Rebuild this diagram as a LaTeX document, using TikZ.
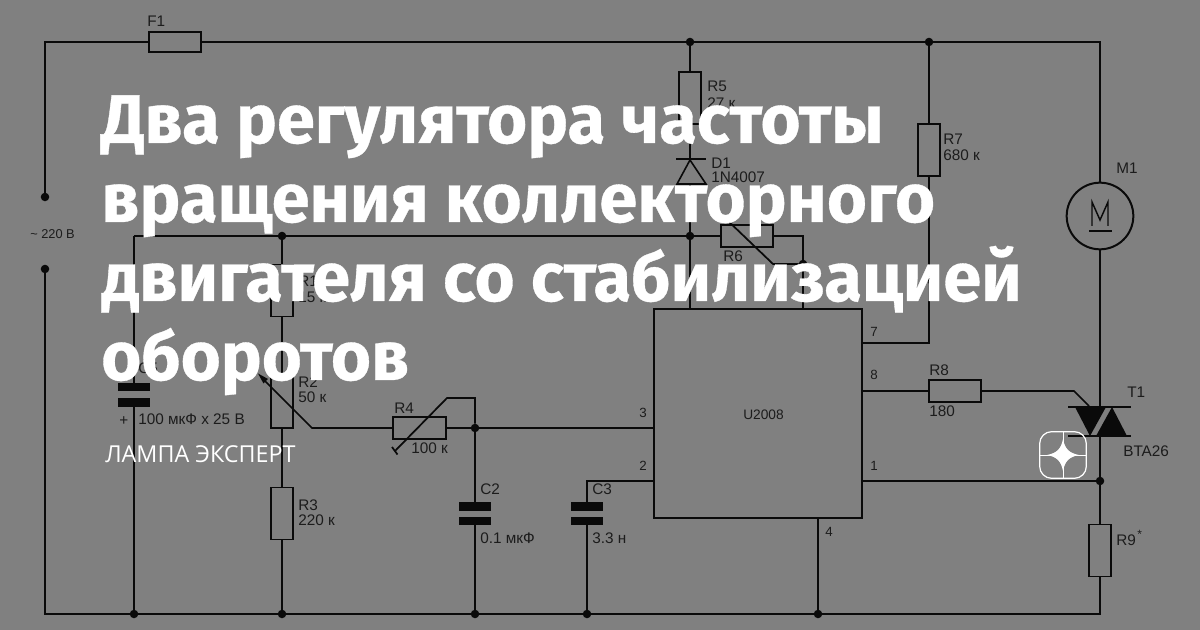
\documentclass[tikz,border=0pt]{standalone}
\usepackage{fontspec}
\setmainfont{Liberation Sans}
\newfontfamily\titlefont[BoldFeatures={FakeBold=0.5}]{Fira Sans}
\newfontfamily\brandfont{Open Sans}
\definecolor{bgc}{HTML}{808080}
\definecolor{ink}{HTML}{0A0A0A}
\definecolor{lbl}{HTML}{1C1C1C}
\begin{document}
\begin{tikzpicture}[x=0.75pt,y=-0.75pt,
  wire/.style={draw=ink,line width=1.3pt},
  res/.style={draw=ink,line width=1.3pt,minimum width=16.5pt,minimum height=39pt,inner sep=0pt,outer sep=0pt},
  resh/.style={draw=ink,line width=1.3pt,minimum width=39.5pt,minimum height=16.5pt,inner sep=0pt,outer sep=0pt},
  dot/.style={circle,fill=ink,minimum size=6.4pt,inner sep=0pt,outer sep=0pt},
  plate/.style={fill=ink,minimum width=24pt,minimum height=6.6pt,inner sep=0pt,outer sep=0pt},
  lab/.style={text=lbl,font=\fontsize{11.5}{11.5}\selectfont,inner sep=0pt,anchor=west},
  pin/.style={text=lbl,font=\fontsize{10}{10}\selectfont,inner sep=0pt},
  ttl/.style={text=white,font=\titlefont\fontsize{51.5}{51.5}\bfseries\selectfont,inner sep=0pt,anchor=base west}]
\path[fill=bgc,use as bounding box] (0,0) rectangle (1200,630);
% junctions
\node[dot] (tl) at (45,197) {};
\node[dot] (bl) at (45,269) {};
\node[dot] (j690t) at (690,42) {};
\node[dot] (j929t) at (929,42) {};
\node[dot] (jrail1) at (282,236) {};
\node[dot] (jrail2) at (690,236) {};
\node[dot] (jw6) at (803,264) {};
\node[dot] (j3) at (475,428) {};
\node[dot] (j1) at (1100,481) {};
\node[dot] (b134) at (134,614) {};
\node[dot] (b282) at (282,614) {};
\node[dot] (b475) at (475,614) {};
\node[dot] (b587) at (587,614) {};
\node[dot] (b818) at (818,614) {};
\coordinate (tlc) at (45,42);
\coordinate (trc) at (1100,42);
\coordinate (blc) at (45,614);
\coordinate (brc) at (1100,614);
\coordinate (railL) at (134,236);
% components
\node[draw=ink,line width=1.3pt,minimum width=39.5pt,minimum height=15.5pt,inner sep=0pt,outer sep=0pt] (F1) at (175,42) {};
\node[res] (R5) at (690,98) {};
\node[res] (R7) at (929,150) {};
\node[res] (R9) at (1100,550.5) {};
\node[res] (R1) at (282,290.5) {};
\node[res] (R2) at (282,402) {};
\node[res] (R3) at (282,513.5) {};
\node[resh] (R4) at (419.5,428) {};
\node[resh] (R6) at (747,236) {};
\node[resh] (R8) at (955,391) {};
\node[draw=ink,line width=1.3pt,minimum width=156pt,minimum height=157pt,inner sep=0pt,outer sep=0pt] (U) at (758,413.5) {};
\node[circle,draw=ink,line width=1.5pt,minimum size=50pt,inner sep=0pt,outer sep=0pt] (M1) at (1100,216) {};
\node[plate] (C5a) at (134,387) {};
\node[plate] (C5b) at (134,402.5) {};
\node[plate] (C2a) at (475,506.5) {};
\node[plate] (C2b) at (475,521) {};
\node[plate] (C3a) at (587,506.5) {};
\node[plate] (C3b) at (587,521) {};
\coordinate (D1k) at (690,159);
\coordinate (D1a) at (690,184);
\coordinate (T1t) at (1100,407);
\coordinate (T1b) at (1100,436);
% wires
\draw[wire] (tl) -- (tlc) -- (F1.west);
\draw[wire] (F1.east) -- (j690t) -- (j929t) -- (trc) -- (M1.north);
\draw[wire] (M1.south) -- (T1t);
\draw[wire] (T1b) -- (j1) -- (R9.north);
\draw[wire] (R9.south) -- (brc) -- (b818) -- (b587) -- (b475) -- (b282) -- (b134) -- (blc) -- (bl);
\draw[wire] (j690t) -- (R5.north);
\draw[wire] (R5.south) -- (D1k);
\draw[wire] (D1a) -- (jrail2);
\draw[wire] (jrail2) -- (jrail2 |- U.north);
\draw[wire] (j929t) -- (R7.north);
\draw[wire] (R7.south) -- (929,343) -- (863,343);
\draw[wire] (railL) -- (jrail1) -- (jrail2) -- (R6.west);
\draw[wire] (R6.east) -- (803,236) -- (jw6) -- (jw6 |- U.north);
\draw[wire] (725,218) -- (773,264) -- (jw6);
\draw[wire] (railL) -- (C5a);
\draw[wire] (C5b) -- (b134);
\draw[wire] (jrail1) -- (R1.north);
\draw[wire] (R1.south) -- (R2.north);
\draw[wire] (R2.south) -- (R3.north);
\draw[wire] (R3.south) -- (b282);
\draw[wire] (U.west |- j3) -- (j3) -- (R4.east);
\draw[wire] (R4.west) -- (312,428) -- (262,378);
\fill[ink] (258,373.5) -- (268,379) -- (263.5,383.5) -- cycle;
\draw[wire] (392,447) -- (397.5,454.5);
\draw[wire] (395,451) -- (447,398) -- (475,398) -- (j3);
\draw[wire] (j3) -- (C2a);
\draw[wire] (C2b) -- (b475);
\draw[wire] (U.west |- 0,481) -- (587,481) -- (C3a);
\draw[wire] (C3b) -- (b587);
\draw[wire] (U.east |- j1) -- (j1);
\draw[wire] (U.east |- R8) -- (R8.west);
\draw[wire] (R8.east) -- (1074,391) -- (1089,406);
\draw[wire] (b818) -- (b818 |- U.south);
% diode
\draw[draw=ink,line width=1.6pt] (676,159) -- (706,159);
\draw[draw=ink,line width=1.2pt] (690,160) -- (677,184) -- (706,184) -- cycle;
% triac
\draw[draw=ink,line width=1.6pt] (1068,407) -- (1131,407);
\draw[draw=ink,line width=1.6pt] (1068,436) -- (1131,436);
\fill[ink] (1075,407) -- (1106,407) -- (1090,436) -- cycle;
\fill[ink] (1112,407) -- (1127,436) -- (1096,436) -- cycle;
% motor glyph
\draw[draw=ink,line width=1.1pt] (1092,226) -- (1092,202) -- (1100,220) -- (1108,202) -- (1108,226);
\draw[draw=ink,line width=1.2pt] (1089,231) -- (1112,231);
% labels
\node[lab] (lF1) at (147,21) {F1};
\node[lab,font=\fontsize{9.6}{9.6}\selectfont] (l220) at (30,234) {\textasciitilde{} 220 В};
\node[lab] (lR5) at (707,86) {R5};
\node[lab] (lR5v) at (707,103) {27 к};
\node[lab] (lD1) at (711,163) {D1};
\node[lab] (lD1v) at (711,177) {1N4007};
\node[lab] (lR6) at (723,256) {R6};
\node[lab] (lR7) at (943,139) {R7};
\node[lab] (lR7v) at (943,155) {680 к};
\node[lab] (lM1) at (1116,168) {M1};
\node[lab] (lT1) at (1127,392) {T1};
\node[lab] (lB) at (1123,451) {BTA26};
\node[lab] (lR8) at (929,370) {R8};
\node[lab] (lR8v) at (929,411) {180};
\node[lab] (lR9) at (1116,540) {R9};
\node[lab,font=\fontsize{9}{9}\selectfont] (lstar) at (1137,534) {*};
\node[lab,font=\fontsize{10.3}{10.3}\selectfont] (lU) at (743,415) {U2008};
\node[lab] (lR1) at (298,281) {R1};
\node[lab] (lR1v) at (298,297) {15 к};
\node[lab] (lR2) at (298,382) {R2};
\node[lab] (lR2v) at (298,397) {50 к};
\node[lab] (lR3) at (298,505) {R3};
\node[lab] (lR3v) at (298,520) {220 к};
\node[lab] (lR4) at (394,408) {R4};
\node[lab] (lR4v) at (411,448) {100 к};
\node[lab] (lC2) at (480,489) {C2};
\node[lab] (lC2v) at (480,538) {0.1 мкФ};
\node[lab] (lC3) at (592,489) {C3};
\node[lab] (lC3v) at (592,538) {3.3 н};
\node[lab] (lC5) at (138,368) {C5};
\node[lab] (lC5v) at (138,419) {100 мкФ x 25 В};
\node[lab] (lplus) at (119,421) {+};
\node[pin] (p3) at (643,413) {3};
\node[pin] (p2) at (643,466) {2};
\node[pin] (p7) at (874,332) {7};
\node[pin] (p8) at (874,375) {8};
\node[pin] (p1) at (874,466) {1};
\node[pin] (p4) at (829,532) {4};
% title
\node[ttl] (t1) at (101,143) {Два регулятора частоты};
\node[ttl] (t2) at (101,222) {вращения коллекторного};
\node[ttl] (t3) at (101,301) {двигателя со стабилизацией};
\node[ttl] (t4) at (101,380) {оборотов};
\node[text=white,font=\brandfont\fontsize{17.5}{17.5}\selectfont,inner sep=0pt,anchor=base west] (brand) at (105,463) {ЛАМПА ЭКСПЕРТ};
% logo
\node[draw=white,line width=0.9pt,rounded corners=9pt,minimum width=35pt,minimum height=35pt,inner sep=0pt,outer sep=0pt] (logo) at (1063,455) {};
\draw[white,line width=0.5pt] (logo.north) -- (logo.south);
\draw[white,line width=0.5pt] (logo.west) -- (logo.east);
\fill[white] (1063,439) .. controls (1065,449) and (1069,453) .. (1079,455) .. controls (1069,457) and (1065,461) .. (1063,471) .. controls (1061,461) and (1057,457) .. (1047,455) .. controls (1057,453) and (1061,449) .. (1063,439) -- cycle;
\end{tikzpicture}
\end{document}
